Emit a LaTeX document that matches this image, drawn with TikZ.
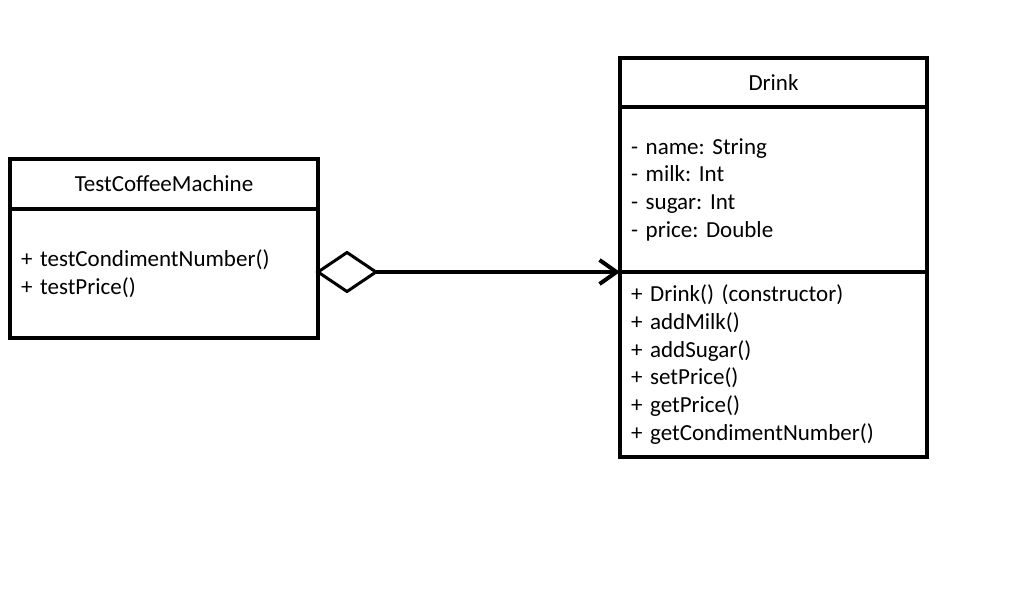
\documentclass[tikz,border=0pt]{standalone}
\usepackage{fontspec}
\setmainfont[WordSpace=0.8]{Carlito}
\frenchspacing
\usetikzlibrary{arrows.meta,positioning,shapes.geometric}

\begin{document}
\begin{tikzpicture}[
  x=1pt, y=-1pt,
  font=\fontsize{23}{27.7}\selectfont,
  part/.style={draw, line width=4pt, outer sep=0pt, inner xsep=11pt, inner ysep=0pt},
  head/.style={part, align=center},
  body/.style={part, align=left, text width=#1},
  agg/.style={draw, diamond, line width=3pt, fill=white, outer sep=0pt, inner sep=0pt, minimum width=58pt, minimum height=39pt},
  arrow/.style={-{Straight Barb[length=17pt, width=24pt, line width=4pt]}, line width=4pt}
]
\useasboundingbox (0,0) rectangle (1012,591);

\node[head, minimum width=308pt, minimum height=50pt] (tcm) at (164,184) {TestCoffeeMachine};
\node[body=286pt, minimum width=308pt, minimum height=129pt, below=0pt of tcm] (tcmops) {
  + testCondimentNumber()\\
  + testPrice()
};

\node[head, minimum width=307pt, minimum height=49pt] (drink) at (773.5,82.5) {Drink};
\node[body=285pt, minimum width=307pt, minimum height=165pt, below=0pt of drink] (drinkattr) {
  - name: String\\
  - milk: Int\\
  - sugar: Int\\
  - price: Double
};
\node[body=285pt, minimum width=307pt, minimum height=185pt, below=0pt of drinkattr] (drinkops) {
  + Drink() (constructor)\\
  + addMilk()\\
  + addSugar()\\
  + setPrice()\\
  + getPrice()\\
  + getCondimentNumber()
};

\node[agg, anchor=west] (has) at (tcmops.east |- drinkattr.south west) {};

\draw[arrow] (has.east) -- (drinkattr.south west);

\end{tikzpicture}
\end{document}
